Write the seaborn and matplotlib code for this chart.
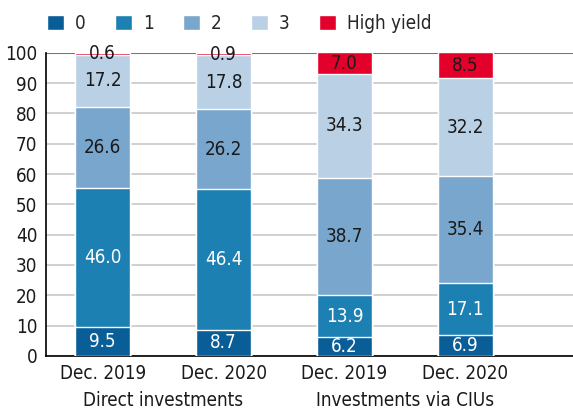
import numpy as np
import pandas as pd
import seaborn as sns
import matplotlib.pyplot as plt

# bar labels and values
periods = ["Dec. 2019", "Dec. 2020", "Dec. 2019", "Dec. 2020"]
groups = ["Direct investments", "Investments via CIUs"]
series = ["0", "1", "2", "3", "High yield"]
v0 = [9.5, 8.7, 6.2, 6.9]
v1 = [46.0, 46.4, 13.9, 17.1]
v2 = [26.6, 26.2, 38.7, 35.4]
v3 = [17.2, 17.8, 34.3, 32.2]
vhy = [0.6, 0.9, 7.0, 8.5]

colors = ["#0a5e98", "#1d80b3", "#79a6cc", "#b9d0e5", "#e3002b"]
text_colors = ["white", "white", "#1a1a1a", "#1a1a1a", "#1a1a1a"]

sns.set_style("white")
plt.rcParams["font.family"] = ["DejaVu Sans"]
plt.rcParams["font.stretch"] = "condensed"

keys = ["a", "b", "c", "d"]
df = pd.DataFrame({"bar": keys, "0": v0, "1": v1, "2": v2, "3": v3, "High yield": vhy})
cum = df[series].cumsum(axis=1)

fig, ax = plt.subplots(figsize=(5.73, 4.12), dpi=100)
fig.subplots_adjust(left=0.08, right=1.0, top=0.872, bottom=0.136)

# stacked bars: draw cumulative totals from the top series down
for i in range(len(series) - 1, -1, -1):
    sns.barplot(x=df["bar"], y=cum[series[i]], color=colors[i], width=0.455,
                saturation=1, label=series[i], ax=ax, zorder=3)

for i, s in enumerate(series):
    for x, top, v in zip(range(4), cum[s], df[s]):
        ax.text(x, top - v / 2, f"{v:.1f}", ha="center", va="center",
                color=text_colors[i], fontsize=13.5, zorder=4)

ax.set_ylim(0, 100)
ax.set_xlim(-0.47, 3.89)
ax.set_yticks(range(0, 101, 10))
ax.set_xticks(range(4))
ax.set_xticklabels(periods)
ax.tick_params(axis="both", labelsize=13.5, length=0, colors="#1a1a1a")
ax.tick_params(axis="x", pad=6)
ax.tick_params(axis="y", pad=6)
ax.grid(axis="y", color="#c8c8c8", linewidth=1.2, zorder=0)
ax.set_axisbelow(True)
ax.axhline(100, color="#777777", linewidth=1.5, zorder=2)
for sp in ["top", "right"]:
    ax.spines[sp].set_visible(False)
ax.spines["left"].set_color("black")
ax.spines["bottom"].set_color("black")
ax.spines["left"].set_linewidth(1.2)
ax.spines["bottom"].set_linewidth(1.2)
ax.set_xlabel("")
ax.set_ylabel("")

ax.text(0.5, -0.115, groups[0], transform=ax.get_xaxis_transform(), ha="center",
        va="top", fontsize=13.5, color="#1a1a1a")
ax.text(2.5, -0.115, groups[1], transform=ax.get_xaxis_transform(), ha="center",
        va="top", fontsize=13.5, color="#1a1a1a")

handles, labels = ax.get_legend_handles_labels()
order = [labels.index(s) for s in series]
ax.legend([handles[j] for j in order], series, loc="lower left",
          bbox_to_anchor=(-0.012, 1.04), ncol=5, frameon=False, fontsize=13.5,
          handlelength=0.9, handleheight=0.9, columnspacing=1.55,
          handletextpad=0.6, borderaxespad=0)

plt.savefig("out.png", dpi=100)
